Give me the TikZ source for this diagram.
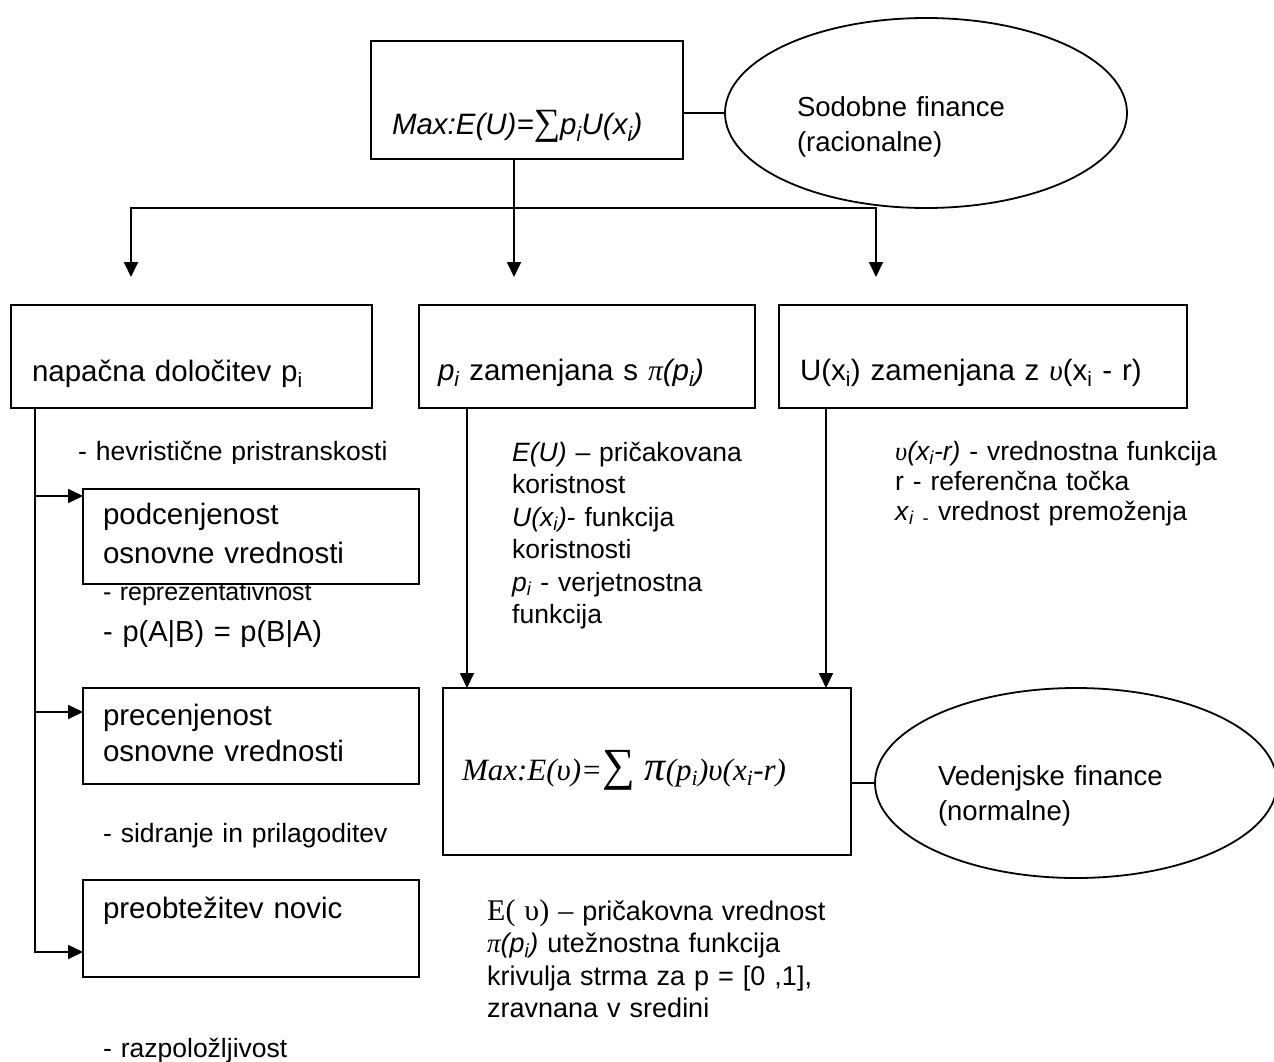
\documentclass[tikz,border=0pt]{standalone}
\usepackage{fontspec}
\setmainfont{Liberation Sans}
\newfontfamily\timesfont{Liberation Serif}
\usetikzlibrary{arrows.meta,positioning,shapes.geometric}

\newcommand{\boxfont}{\fontsize{29.5pt}{36pt}\selectfont}
\newcommand{\notefont}{\fontsize{26.5pt}{32.5pt}\selectfont}
\newcommand{\ovalfont}{\fontsize{27.5pt}{35pt}\selectfont}
\newcommand{\gr}[1]{{\timesfont\itshape #1}}
\newcommand{\ix}{\textsubscript{i}}

\begin{document}
\begin{tikzpicture}[
        x=1pt, y=-1pt,
        every node/.style={inner sep=0pt},
        box/.style={draw, fill=white, line width=1.8pt, align=left, outer sep=0pt,
                    inner xsep=21pt, inner ysep=0pt, anchor=north west, font=\boxfont},
        oval/.style={draw, ellipse, line width=1.8pt, minimum width=402pt, outer sep=0pt,
                     minimum height=190pt, inner sep=0pt, align=left, font=\ovalfont},
        note/.style={anchor=base west, align=left, text width=380pt, font=\notefont},
        link/.style={line width=1.8pt},
        arrow/.style={-{Triangle[length=15pt,width=14pt]}, line width=1.8pt}
    ]
    \useasboundingbox (0,0) rectangle (1274,1062);

    % top: rational model
    \node[box, text width=270pt, text height=94pt, text depth=24pt] (maxbox) at (371,41)
        {\itshape Max:E(U)={\timesfont\fontsize{37pt}{37pt}\selectfont ∑}p\ix U(x\ix)};
    \node[oval, text width=258pt, text height=20pt, text depth=12pt] (sodobne) at (926,113)
        {Sodobne finance\\(racionalne)};
    \draw[link] (maxbox.east |- sodobne.west) -- (sodobne.west);

    % three deviations
    \node[box, text width=319pt, text height=76pt, text depth=27pt] (napacna) at (11,305)
        {napačna določitev p\ix};
    \node[box, right=47pt of napacna, inner xsep=19pt, text width=298pt,
          text height=75pt, text depth=28pt] (pibox)
        {\textit{p\ix} zamenjana s \gr{π}\textit{(p\ix)}};
    \node[box, right=24pt of pibox, text width=366pt, text height=75pt, text depth=28pt] (ubox)
        {U(x\ix) zamenjana z \gr{υ}(x\ix{} - r)};

    \coordinate (bar) at (514,208);
    \draw[link] (maxbox.south -| bar) -- (bar);
    \draw[arrow, shorten >=28pt] (bar) -| ([xshift=-60.5pt]napacna.north);
    \draw[arrow, shorten >=28pt] (bar) -- ([xshift=-73pt]pibox.north);
    \draw[arrow, shorten >=28pt] (bar) -| ([xshift=-107pt]ubox.north);

    % heuristics column
    \begin{scope}
        \clip (0,0) rectangle (1274,463);
        \node[note] (heur) at (78,460) {- hevristične pristranskosti};
    \end{scope}
    \node[note, font=\fontsize{25pt}{30pt}\selectfont] (repr) at (103,600) {- reprezentativnost};
    \node[note, font=\fontsize{29pt}{34pt}\selectfont] (bayes) at (103,641) {- p(A|B) = p(B|A)};
    \node[note] (sidr) at (103,842) {- sidranje in prilagoditev};
    \node[note] (razp) at (103,1057) {- razpoložljivost};

    \node[box, inner xsep=20pt, text width=296pt, text height=35pt, text depth=60pt] (podcen) at (83,489)
        {podcenjenost\\[3pt]osnovne vrednosti};
    \node[box, below=104pt of podcen, inner xsep=20pt, text width=296pt, text height=37pt,
          text depth=59pt] (precen)
        {precenjenost\\osnovne vrednosti};
    \node[box, below=96pt of precen, inner xsep=20pt, text width=296pt, text height=38pt,
          text depth=59pt] (preob)
        {preobtežitev novic};

    \coordinate (stem) at ([xshift=24pt]napacna.south west);
    \draw[arrow] (stem) |- ([yshift=-7pt]podcen.north west);
    \draw[arrow] (stem) |- ([yshift=-24pt]precen.north west);
    \draw[arrow] (stem) |- ([yshift=25pt]preob.south west);

    % definitions
    \node[note] (eudef) at (512,461)
        {\textit{E(U)} – pričakovana\\koristnost\\\textit{U(x\ix)}- funkcija\\koristnosti\\
         \textit{p\ix} - verjetnostna\\funkcija};
    \node[note, font=\fontsize{26.5pt}{30pt}\selectfont] (vdef) at (895,460)
        {\textit{\gr{υ}(x\ix-r)} - vrednostna funkcija\\r - referenčna točka\\
         \textit{x}\textsubscript{\textit{i} -} vrednost premoženja};

    % prospect theory
    \node[box, inner xsep=19pt, text width=370pt, text height=92pt, text depth=75pt] (formula) at (443,688)
        {\timesfont\itshape\fontsize{31pt}{36pt}\selectfont
         Max:E(υ)={\fontsize{46pt}{46pt}\selectfont ∑} {\fontsize{42pt}{42pt}\selectfont π}(p\ix)υ(x\ix-r)};
    \node[oval, text width=276pt, text height=20pt, text depth=16pt] (vedenjske) at (1076,783)
        {Vedenjske finance\\(normalne)};
    \draw[link] (formula.east |- vedenjske.west) -- (vedenjske.west);

    \coordinate (inL) at ([xshift=24pt]formula.north west);
    \coordinate (inR) at ([xshift=-25pt]formula.north east);
    \draw[arrow] (pibox.south -| inL) -- (inL);
    \draw[arrow] (ubox.south -| inR) -- (inR);

    \node[note, font=\fontsize{27pt}{32.5pt}\selectfont] (pidef) at (487,920)
        {{\timesfont\fontsize{30pt}{32.5pt}\selectfont E( υ) –} pričakovna vrednost\\\gr{π}\textit{(p\ix)} utežnostna funkcija\\
         krivulja strma za p = [0 ,1],\\zravnana v sredini};
\end{tikzpicture}
\end{document}
